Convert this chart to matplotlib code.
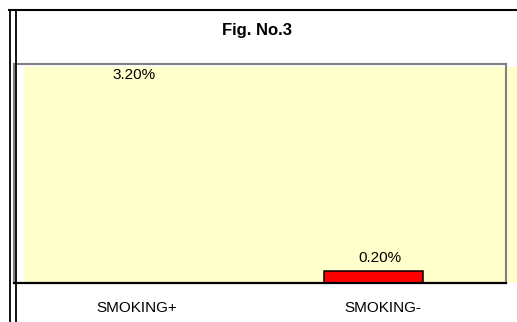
import matplotlib
matplotlib.use("Agg")
import matplotlib.pyplot as plt
from matplotlib.lines import Line2D
from matplotlib.patches import Rectangle

plt.rcParams["font.family"] = ["Liberation Sans", "DejaVu Sans"]

# data
groups = ["SMOKING+", "SMOKING-"]
percent = [3.20, 0.20]
labels = ["3.20%", "0.20%"]

W, H = 517, 322


def fx(px):
    return px / W


def fy(py):
    return 1 - py / H


fig = plt.figure(figsize=(W / 100, H / 100), dpi=100)

# plot area: gray box, black baseline
ax = fig.add_axes([fx(13.7), fy(283), fx(506) - fx(13.7), fy(63.5) - fy(283)])
ax.set_facecolor("none")

# light yellow wall behind the bars
fig.add_artist(Rectangle((fx(23.5), fy(283)), fx(517) - fx(23.5), fy(66.5) - fy(283),
                         transform=fig.transFigure, facecolor="#FFFFCC",
                         edgecolor="none", zorder=0))

pos = [i - 0.038 for i in range(len(groups))]
bars = ax.bar(pos, percent, width=0.402,
              color=["none", "#FF0000"], edgecolor=["none", "black"], linewidth=1.1)

ax.set_xlim(-0.5, 1.5)
ax.set_ylim(0, 3.6)
ax.set_xticks(range(len(groups)))
ax.set_xticklabels(groups, fontsize=11)
ax.tick_params(axis="x", length=0, pad=13)
ax.set_yticks([])

for s in ["top", "right", "left"]:
    ax.spines[s].set_color("#808080")
    ax.spines[s].set_linewidth(1.5)
ax.spines["bottom"].set_color("black")
ax.spines["bottom"].set_linewidth(1.6)

for b, v, t in zip(bars, percent, labels):
    ax.annotate(t, (b.get_x() + b.get_width() / 2 + 0.025, v),
                xytext=(0, 4), textcoords="offset points",
                ha="center", va="bottom", fontsize=11)

fig.text(fx(257.5), fy(31), "Fig. No.3", ha="center", va="center",
         fontsize=12, fontweight="bold")

# outer frame lines
fig.add_artist(Line2D([fx(9), fx(517)], [fy(10), fy(10)], color="black", lw=1.5,
                      transform=fig.transFigure))
for x in [10, 15.5]:
    fig.add_artist(Line2D([fx(x), fx(x)], [fy(9.5), fy(322)], color="black", lw=1.3,
                          transform=fig.transFigure))

fig.savefig("out.png", dpi=100)
